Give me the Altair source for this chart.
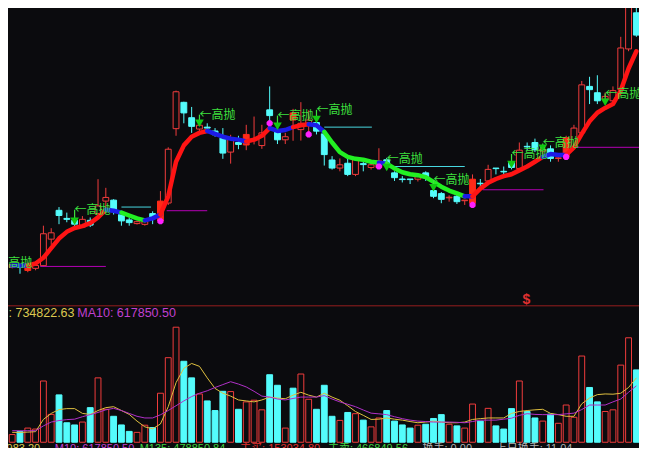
import altair as alt
import pandas as pd

# ---------------- data ----------------
opens = [7.00, 7.08, 6.84, 6.95, 7.09, 8.47, 9.97, 9.55, 9.45, 9.10,
         9.45, 9.80, 10.45, 10.50, 9.75, 9.47, 9.28, 9.24, 9.80, 9.42,
         10.35, 14.22, 15.59, 14.79, 14.20, 14.30, 14.10, 13.73, 13.00, 13.50,
         13.37, 13.60, 13.34, 15.20, 14.17, 13.64, 15.04, 14.17, 14.42, 14.54,
         13.95, 12.59, 12.17, 12.42, 11.84, 12.40, 12.20, 12.20, 12.60, 11.92,
         11.60, 11.60, 11.59, 11.92, 11.00, 10.84, 10.62, 10.70, 10.47, 10.34,
         11.38, 11.50, 12.17, 12.00, 12.50, 12.15, 13.30, 13.50, 13.05, 13.17,
         12.67, 12.75, 13.25, 14.00, 16.42, 16.09, 15.75, 15.67, 16.25, 18.37,
         20.25]
closes = [7.15, 7.02, 7.17, 7.10, 8.75, 8.80, 9.70, 9.50, 9.25, 9.50,
          9.20, 10.20, 10.64, 9.90, 9.42, 9.33, 9.38, 9.38, 9.54, 10.45,
          13.15, 16.14, 15.04, 14.34, 14.40, 14.25, 13.90, 12.95, 13.75, 13.40,
          13.92, 13.70, 14.00, 14.90, 13.64, 13.80, 14.67, 14.50, 14.67, 14.09,
          12.87, 12.17, 12.34, 11.84, 12.67, 12.35, 12.34, 12.54, 12.35, 11.67,
          11.57, 11.57, 11.72, 11.67, 10.70, 10.54, 10.65, 10.42, 10.50, 11.59,
          11.35, 12.10, 12.14, 11.97, 12.20, 13.10, 13.27, 13.12, 13.15, 12.67,
          12.70, 13.75, 14.25, 16.50, 16.25, 15.67, 15.90, 16.20, 18.42, 20.75,
          19.09]
highs = [7.20, 7.17, 7.25, 7.20, 9.17, 9.04, 10.14, 9.85, 9.60, 9.67,
         9.60, 11.59, 11.14, 10.55, 9.84, 9.60, 9.43, 9.42, 9.92, 10.97,
         13.25, 16.20, 15.62, 15.35, 14.60, 14.50, 14.25, 14.25, 13.90, 13.85,
         14.42, 14.85, 14.42, 16.42, 14.25, 14.00, 15.25, 15.60, 15.17, 14.75,
         14.09, 12.79, 12.67, 12.67, 12.75, 12.50, 12.50, 13.20, 12.70, 12.00,
         11.75, 11.60, 11.80, 12.00, 11.10, 10.92, 10.75, 10.84, 10.50, 11.84,
         11.60, 12.34, 12.17, 12.25, 12.60, 13.50, 13.50, 13.70, 13.35, 13.35,
         12.84, 13.85, 14.42, 16.70, 16.92, 17.00, 16.10, 16.42, 19.00, 21.00,
         20.75]
lows = [6.95, 6.67, 6.75, 6.85, 7.05, 8.17, 9.25, 9.35, 9.10, 9.05,
        9.10, 9.70, 10.09, 9.75, 9.17, 9.17, 9.23, 9.17, 9.25, 9.35,
        10.25, 13.85, 14.50, 14.00, 14.05, 14.10, 13.80, 12.65, 12.40, 13.15,
        13.10, 13.40, 13.17, 14.50, 13.42, 13.42, 13.59, 13.60, 14.00, 13.92,
        12.30, 12.09, 12.00, 11.75, 11.75, 12.00, 12.09, 12.17, 12.15, 11.50,
        11.42, 11.34, 11.47, 11.50, 10.60, 10.34, 10.42, 10.30, 10.25, 10.25,
        11.15, 11.48, 11.84, 11.75, 12.10, 12.12, 13.09, 13.00, 12.90, 12.50,
        12.50, 12.70, 13.20, 13.95, 15.50, 15.50, 15.50, 15.50, 16.00, 18.25,
        19.00]
signal_bars = [2, 19, 30, 36, 47, 59, 71]

# volume in 10k lots
volumes = [8.8, 12.4, 16.2, 15.1, 70.1, 31.9, 54.2, 22.3, 19.8, 23.1,
           39.6, 73.7, 37.7, 29.7, 19.8, 12.4, 11.3, 19.5, 16.8, 56.1,
           96.8, 131.7, 92.7, 73.7, 55.3, 47.3, 36.3, 58.3, 58.0, 37.7,
           46.2, 48.1, 37.1, 77.3, 65.2, 16.2, 61.9, 78.1, 49.2, 37.7,
           65.2, 29.7, 25.0, 34.1, 32.7, 25.3, 17.6, 27.8, 36.3, 24.2,
           19.8, 16.2, 19.5, 20.6, 27.2, 31.6, 20.6, 18.7, 16.2, 43.7,
           24.2, 38.8, 18.7, 15.1, 38.5, 70.1, 35.2, 27.8, 24.2, 32.2,
           21.7, 42.6, 28.6, 98.7, 62.7, 46.2, 35.2, 37.1, 88.3, 119.6,
           82.8]
vol_ma5 = [11.3, 11.3, 11.6, 12.1, 26.1, 33.0, 37.4, 38.5, 38.5, 33.0,
           31.9, 36.3, 39.6, 40.7, 36.3, 31.9, 24.2, 17.6, 15.4, 20.9,
           40.7, 68.2, 84.7, 90.2, 86.9, 73.7, 61.6, 56.1, 52.8, 48.4,
           47.3, 46.2, 48.4, 51.7, 50.6, 49.8, 53.9, 57.2, 53.9, 51.7,
           56.1, 51.7, 48.1, 41.8, 35.2, 30.8, 26.1, 26.4, 27.8, 26.4,
           25.3, 23.7, 22.3, 23.1, 24.2, 23.1, 22.3, 22.3, 23.1, 26.1,
           27.0, 27.8, 27.8, 27.8, 33.0, 35.2, 36.3, 37.1, 37.7, 33.0,
           31.6, 29.7, 29.7, 44.0, 50.6, 54.5, 55.3, 55.0, 56.1, 62.7,
           73.7]
vol_ma10 = [13.2, 13.2, 13.2, 13.2, 18.7, 23.1, 24.8, 25.9, 26.4, 29.2,
            31.6, 34.1, 37.1, 38.8, 36.3, 33.0, 29.7, 27.8, 27.8, 31.4,
            36.3, 41.8, 47.3, 52.3, 56.1, 58.9, 62.7, 66.0, 69.3, 66.6,
            63.3, 58.3, 52.8, 51.7, 49.5, 48.4, 50.1, 51.7, 51.7, 51.7,
            53.4, 49.5, 46.2, 43.5, 40.7, 36.9, 33.3, 32.5, 31.6, 29.2,
            27.0, 25.3, 24.2, 23.7, 23.1, 23.1, 23.1, 22.8, 22.3, 23.7,
            25.3, 25.3, 25.3, 26.4, 27.5, 30.8, 32.7, 31.9, 31.6, 31.6,
            31.6, 32.5, 33.3, 37.4, 42.6, 42.6, 42.6, 46.2, 49.5, 57.2,
            64.6]

# thick trend indicator
trend_vals = [7.10, 7.10, 7.10, 7.20, 7.50, 8.00, 8.50, 8.85, 9.05, 9.15,
              9.30, 9.60, 10.00, 9.95, 9.85, 9.70, 9.55, 9.45, 9.55, 9.75,
              10.70, 12.50, 13.35, 13.80, 14.00, 14.10, 13.95, 13.80, 13.70, 13.65,
              13.55, 13.65, 13.85, 14.25, 14.10, 14.15, 14.30, 14.40, 14.45, 14.40,
              14.05, 13.50, 13.00, 12.75, 12.65, 12.60, 12.50, 12.45, 12.40, 12.15,
              11.95, 11.85, 11.80, 11.70, 11.45, 11.20, 11.00, 10.85, 10.70, 10.70,
              11.10, 11.40, 11.60, 11.75, 11.85, 12.05, 12.25, 12.50, 12.75, 12.90,
              12.85, 12.85, 13.25, 13.95, 14.60, 15.05, 15.30, 15.50, 16.20, 17.35,
              18.25]
trend_runs = [(0, 2, "flat"), (2, 12, "up"), (12, 14, "flat"), (14, 17, "down"),
              (17, 19, "flat"), (19, 25, "up"), (25, 30, "flat"), (30, 33, "up"),
              (33, 36, "flat"), (36, 38, "up"), (38, 40, "flat"), (40, 47, "down"),
              (47, 48, "flat"), (48, 58, "down"), (58, 59, "flat"), (59, 68, "up"),
              (68, 71, "flat"), (71, 80, "up")]

# "sell high" signals
sell_idx = [8, 24, 34, 39, 48, 54, 64, 68, 76]
sell_arrow = [9.40, 14.50, 14.35, 14.70, 12.20, 11.15, 12.35, 13.20, 15.60]
sell_label = [10.00, 14.95, 14.90, 15.20, 12.65, 11.55, 12.90, 13.45, 16.05]
sell_text = "←高抛"
edge_label_idx = [-0.5]
edge_label_price = [7.25]
edge_label_text = ["高抛"]

star_idx = [19, 33, 38, 47, 59, 71]
star_price = [9.40, 14.50, 13.92, 12.25, 10.25, 12.75]

level_start = [3.6, 19.8, 60.3, 71.6, 14.0, 40.0, 48.5]
level_end = [12.0, 25.0, 68.1, 80.4, 17.8, 46.1, 58.0]
level_price = [7.05, 9.95, 11.04, 13.25, 10.14, 14.30, 12.25]
level_kind = ["support", "support", "support", "support", "resist", "resist", "resist"]

# ---------------- styling ----------------
W, H = 631, 440
SX, SY = W / 647, H / 458
BG = "#0b0b0e"
RED = "#f03c3c"
SIGRED = "#ff2a18"
CYAN = "#54fcfc"
GREEN_ARROW = "#12c812"
GREEN_TXT = "#3ee03e"
MAG = "#ff20ff"
NUMFONT = "Liberation Sans, Noto Sans CJK SC"
CJK = "Noto Sans CJK SC"

xs = alt.Scale(domain=[-0.5375, 80.3375], nice=False, zero=False)
ps = alt.Scale(domain=[-2.4, 20.5], nice=False, zero=False)
vs = alt.Scale(domain=[-6.6, 497.2], nice=False, zero=False)

rows = []
for i in range(len(opens)):
    if i in signal_bars:
        kind = "sig"
    elif closes[i] >= opens[i]:
        kind = "up"
    else:
        kind = "down"
    up_vol = closes[i] >= opens[i]
    rows.append(dict(
        i=i, x1=i - 0.375, x2=i + 0.375, o=opens[i], c=closes[i], h=highs[i], l=lows[i],
        fill={"sig": SIGRED, "up": BG, "down": CYAN}[kind],
        stroke={"sig": SIGRED, "up": RED, "down": CYAN}[kind],
        wick=CYAN if kind == "down" else RED,
        v=volumes[i], vfill=BG if up_vol else CYAN, vstroke=RED if up_vol else CYAN,
        ma5=vol_ma5[i], ma10=vol_ma10[i]))
df = pd.DataFrame(rows)

trend_color = {"up": "#ff1414", "flat": "#1c1ce8", "down": "#22f022"}
trows = []
for r, (s, e, k) in enumerate(trend_runs):
    for i in range(s, e + 1):
        trows.append(dict(run=r, i=i, val=trend_vals[i], col=trend_color[k]))
tdf = pd.DataFrame(trows)

sdf = pd.DataFrame(dict(i=sell_idx, arrow=sell_arrow, label=sell_label,
                        txt=[sell_text] * len(sell_idx)))
edf = pd.DataFrame(dict(i=edge_label_idx, label=edge_label_price, txt=edge_label_text))
stdf = pd.DataFrame(dict(i=star_idx, p=star_price))
ldf = pd.DataFrame(dict(s=level_start, e=level_end, p=level_price,
                        col=["#b400b4" if k == "support" else "#48d8e0" for k in level_kind]))

X = lambda f: alt.X(f, scale=xs, axis=None)
YP = lambda f: alt.Y(f, scale=ps, axis=None)
YV = lambda f: alt.Y(f, scale=vs, axis=None)

base = alt.Chart(df)
wicks = base.mark_rule(strokeWidth=1).encode(
    x=X("i:Q"), y=YP("l:Q"), y2="h:Q", color=alt.Color("wick:N", scale=None))
bodies = base.mark_bar(strokeWidth=1).encode(
    x=X("x1:Q"), x2="x2:Q", y=YP("o:Q"), y2="c:Q",
    fill=alt.Fill("fill:N", scale=None), stroke=alt.Stroke("stroke:N", scale=None))
levels = alt.Chart(ldf).mark_rule(strokeWidth=1).encode(
    x=X("s:Q"), x2="e:Q", y=YP("p:Q"), color=alt.Color("col:N", scale=None))
trend = alt.Chart(tdf).mark_line(strokeWidth=4.5, strokeCap="round", strokeJoin="round").encode(
    x=X("i:Q"), y=YP("val:Q"), detail="run:N", order="i:Q", color=alt.Color("col:N", scale=None))
conn = alt.Chart(sdf).mark_rule(strokeWidth=1.2, color=GREEN_TXT).encode(
    x=X("i:Q"), y=YP("arrow:Q"), y2="label:Q")
arrows = alt.Chart(sdf).mark_point(shape="triangle-down", filled=True, size=75,
                                   color=GREEN_ARROW, opacity=1).encode(x=X("i:Q"), y=YP("arrow:Q"))
labels = alt.Chart(sdf).mark_text(align="left", baseline="middle", font=CJK, fontSize=12,
                                  color=GREEN_TXT).encode(x=X("i:Q"), y=YP("label:Q"), text="txt:N")
edge_labels = alt.Chart(edf).mark_text(align="left", baseline="middle", font=CJK, fontSize=12,
                                       color=GREEN_TXT).encode(x=X("i:Q"), y=YP("label:Q"), text="txt:N")
stars1 = alt.Chart(stdf).mark_point(shape="cross", filled=True, size=38, color=MAG, opacity=1).encode(
    x=X("i:Q"), y=YP("p:Q"))
stars2 = alt.Chart(stdf).mark_point(shape="cross", filled=True, size=38, color=MAG, opacity=1,
                                    angle=45).encode(x=X("i:Q"), y=YP("p:Q"))
price = alt.layer(wicks, bodies, levels, trend, conn, arrows, labels, edge_labels, stars1, stars2)

vbars = base.mark_bar(strokeWidth=1).encode(
    x=X("x1:Q"), x2="x2:Q", y=YV("v:Q"), y2=alt.datum(0),
    fill=alt.Fill("vfill:N", scale=None), stroke=alt.Stroke("vstroke:N", scale=None))
ma5 = base.mark_line(strokeWidth=1, color="#e0c040").encode(x=X("i:Q"), y=YV("ma5:Q"))
ma10 = base.mark_line(strokeWidth=1, color="#b030c8").encode(x=X("i:Q"), y=YV("ma10:Q"))
vol = alt.layer(vbars, ma5, ma10)

one = alt.Chart(pd.DataFrame({"k": [0]}))


def ftext(x, y, s, color, size=12, align="left", font=NUMFONT, weight="normal", baseline="alphabetic"):
    return one.mark_text(align=align, baseline=baseline, fontSize=size, font=font,
                         color=color, fontWeight=weight).encode(
        x=alt.value(x * SX), y=alt.value(y * SY), text=alt.value(s))


sep = one.mark_rule(color="#961e1e", strokeWidth=1).encode(
    x=alt.value(0), x2=alt.value(W), y=alt.value(310 * SY))
frame = [
    sep,
    ftext(531.5, 304, "$", "#e03030", size=14, align="center", weight="bold", baseline="middle"),
    ftext(0.5, 322, ": 734822.63", "#dcc850", size=12.5),
    ftext(71, 322, "MA10: 617850.50", "#c040d0", size=12.5),
    ftext(33, 462, "1104983.20", "#dcc850", size=11, align="right"),
    ftext(48, 462, "M10: 617850.50", "#c040d0", size=11),
    ftext(135, 462, "M135: 478850.84", "#40d040", size=11),
    ftext(238, 462, "主买: 153034.80", "#e03030", size=11),
    ftext(328, 462, "主卖: 466849.56", "#40d040", size=11),
    ftext(425, 462, "换手: 0.00", "#b0b0b0", size=11),
    ftext(500, 462, "上日换手: 11.04", "#b0b0b0", size=11),
]

chart = alt.layer(price, vol, *frame).resolve_scale(y="independent").properties(
    width=W, height=H, background=BG, padding=0,
    autosize=alt.AutoSizeParams(type="none")
).configure_view(stroke=None)

chart.save("out.html", embed_options={"renderer": "svg", "actions": False})
